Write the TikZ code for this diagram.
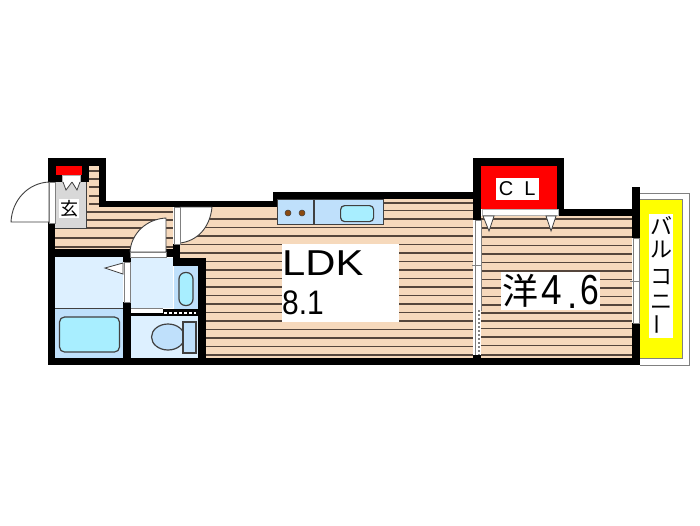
\documentclass[tikz,border=0pt]{standalone}
\usepackage{fontspec}
\usetikzlibrary{shapes.geometric}
\setmainfont{Liberation Sans}
\newfontfamily\cjk{Noto Sans CJK JP}
\definecolor{floorc}{HTML}{F6D9BC}
\definecolor{linec}{HTML}{55463C}
\definecolor{washc}{HTML}{DDF0FF}
\definecolor{bathc}{HTML}{BFE0FB}
\definecolor{tubc}{HTML}{A8EEFF}
\definecolor{outc}{HTML}{404040}
\definecolor{redc}{HTML}{FF0000}
\definecolor{yelc}{HTML}{FFFF00}
\definecolor{grayc}{HTML}{D8D8D8}
\definecolor{burn}{HTML}{8B4A10}
\tikzset{
 wall/.style={fill=black,draw=none},
 fixture/.style={draw=outc,line width=1.2pt},
 strip/.style={fill=white,draw=gray,line width=.9pt},
 doorleaf/.style={fill=white,draw=outc,line width=.9pt},
 label/.style={fill=white,inner sep=0pt,text=black,align=left},
 tri/.style={fill=white,draw=outc,line width=.8pt},
 balch/.style={font=\cjk\fontsize{22}{22}\selectfont},
 floorline/.style={linec,line width=1.3pt},
}
\begin{document}
\begin{tikzpicture}[x=1pt,y=-1pt,every node/.style={inner sep=0pt}]
\useasboundingbox (0,0) rectangle (700,525);
\fill[white] (0,0) rectangle (700,525);
% floors
\fill[floorc] (55,166) -- (99,166) -- (99,207) -- (173,207) -- (173,250) -- (55,250) -- cycle;
\fill[floorc] (180,207) rectangle (277,358);
\fill[floorc] (277,199) rectangle (473,358);
\fill[floorc] (481,216) rectangle (632,358);
% floor lines
\begin{scope}
\clip (89,166) rectangle (99,207);
\foreach \y in {171,179,187,196,204} \draw[floorline] (80,\y) -- (110,\y);
\end{scope}
\foreach \y in {212,220,228} \draw[floorline] (86,\y) -- (173,\y);
\foreach \y in {238,247} \draw[floorline] (55,\y) -- (173,\y);
\foreach \y in {219,227.5,236,244.5,253,261.5,270,278.5,287,295.5,304,312.5,321,329.5,338,346.5,355}
  \draw[floorline] (180,\y) -- (473,\y);
\draw[floorline] (383,210.5) -- (473,210.5);
\draw[floorline] (383,203) -- (473,203);
\foreach \y in {219,228,237,245.5,254,262.5,271,279.5,288,296.5,305,313,321,328.5,337,345.5,355}
  \draw[floorline] (481,\y) -- (632,\y);
% rooms
\fill[washc] (55,257) rectangle (123,308);
\fill[bathc] (55,308) rectangle (123,358);
\fill[washc] (131,258) rectangle (173,308);
\fill[bathc] (174,266) rectangle (198,309);
\fill[washc] (131,316) rectangle (198,358);
\draw[outc,line width=.8pt] (55,308) -- (123,308);
\node[fixture,fill=tubc,rounded corners=5pt,minimum width=60pt,minimum height=35pt] (tub) at (89.5,334.5) {};
\node[fixture,fill=tubc,rounded corners=6.5pt,minimum width=14pt,minimum height=33pt] (basin) at (186,289) {};
\node[fixture,fill=bathc,ellipse,minimum width=33pt,minimum height=26pt] (bowl) at (168,337) {};
\node[fixture,fill=bathc,minimum width=13pt,minimum height=31pt] (tank) at (189.5,337.5) {};
% walls
\fill[wall] (48,158) rectangle (106,166);
\fill[wall] (48,158) rectangle (55,182);
\fill[wall] (55,166) rectangle (89,182);
\fill[wall] (99,158) rectangle (106,207);
\fill[wall] (99,201) rectangle (277,207);
\fill[wall] (273,192) rectangle (473,199);
\fill[wall] (273,192) rectangle (277,207);
\fill[wall] (48,222) rectangle (55,365);
\fill[wall] (48,358) rectangle (206,365);
\fill[wall] (55,249) rectangle (130,257);
\fill[wall] (166,249) rectangle (180,257);
\fill[wall] (173,244) rectangle (180,266);
\fill[wall] (173,258) rectangle (206,266);
\fill[wall] (198,258) rectangle (206,365);
\fill[wall] (123,257) rectangle (131,262);
\fill[wall] (123,302) rectangle (131,358);
\fill[wall] (163,309) rectangle (198,316);
\fill[wall] (131,313) rectangle (163,316);
\fill[wall] (206,358) rectangle (640,365);
\fill[wall] (473,158) rectangle (564,166);
\fill[wall] (473,158) rectangle (481,220);
\fill[wall] (557,158) rectangle (564,216);
\fill[wall] (557,209) rectangle (640,216);
\fill[wall] (632,187) rectangle (640,238);
\fill[wall] (632,323) rectangle (640,365);
\fill[wall] (473,355) rectangle (481,365);
% genkan
\fill[grayc] (55,182) rectangle (86,228);
\draw[outc,line width=.5pt] (86,182) -- (86,228) -- (55,228);
\node[fill=redc,anchor=north west,minimum width=26pt,minimum height=9pt] (shoered) at (56,166) {};
\node[fill=white,draw=gray!60,line width=.4pt,anchor=north west,minimum width=18pt,minimum height=7pt] (shoe) at (62,175) {};
\draw[tri] (63,182) -- (66,190) -- (72,182);
\draw[tri] (72,182) -- (77,190) -- (80,182);
\node[fill=white,minimum width=20pt,minimum height=19pt] (genkan) at (69,208.5) {\cjk\fontsize{18}{18}\selectfont 玄};
% doors
\draw[doorleaf] (11,222) -- (49,222) -- (49,182) .. controls (28,183) and (12,200) .. (11,222) -- cycle;
\node[strip,anchor=north west,minimum width=6pt,minimum height=41pt] (door1) at (49,182) {};
\draw[doorleaf] (130,252) -- (166,252) -- (166,218) .. controls (146,219) and (131,234) .. (130,252) -- cycle;
\node[strip,anchor=north west,minimum width=36pt,minimum height=5pt] (door2) at (130,252) {};
\draw[doorleaf] (180,243) -- (180,207) -- (212,207) .. controls (210,228) and (197,241) .. (180,243) -- cycle;
\node[strip,anchor=north west,minimum width=6pt,minimum height=37pt] (door3) at (174,207) {};
\node[strip,anchor=north west,minimum width=6pt,minimum height=40pt] (washdoor) at (124,262) {};
\draw[tri] (105,268) -- (123,263) -- (123,274) -- cycle;
\fill[white] (131,308) rectangle (163,313);
\draw[gray,line width=.6pt] (131,308.5) -- (163,308.5);
\draw[white,line width=2pt,dash pattern=on 3pt off 2pt] (164,313) -- (196,313);
% kitchen
\node[fixture,fill=bathc,anchor=north west,minimum width=106pt,minimum height=25pt] (kitchen) at (277,199) {};
\draw[outc,line width=1.2pt] (314,199) -- (314,224);
\filldraw[fill=burn,draw=outc,line width=.5pt] (288,213) circle (3pt) (302,213) circle (3pt);
\node[fixture,fill=tubc,rounded corners=4pt,anchor=north west,minimum width=33pt,minimum height=16pt] (ksink) at (340,205) {};
% closet
\node[fill=redc,anchor=north west,minimum width=76pt,minimum height=43pt] (closet) at (481,166) {};
\node[fill=white,draw=gray!60,line width=.4pt,anchor=north west,minimum width=76pt,minimum height=6pt] (clstrip) at (482,209) {};
\node[fill=white,minimum width=43pt,minimum height=22pt] (clbg) at (517.5,189) {};
\node[font=\fontsize{20}{20}\selectfont] (cl1) at (506,189) {C};
\node[font=\fontsize{20}{20}\selectfont] (cl2) at (530,189) {L};
\draw[tri] (483,216) -- (489,231) -- (494,216) -- cycle;
\draw[tri] (546,216) -- (551,231) -- (556,216) -- cycle;
% sashes
\node[strip,anchor=north west,minimum width=6pt,minimum height=90pt] (sashl) at (474.5,220) {};
\fill[white] (474.5,310) rectangle (480.5,355);
\draw[gray,line width=.8pt] (475,310) -- (475,355);
\draw[gray,line width=1.4pt,dash pattern=on 2pt off 2pt] (479,310) -- (479,355);
\node[strip,anchor=north west,minimum width=6pt,minimum height=85pt] (sashr) at (633,238) {};
\draw[gray,line width=1pt] (630,281) -- (640,281) (472,265) -- (482,265);
% balcony
\draw[gray,line width=1pt] (640,193) -- (689,193) -- (689,365.5) -- (640,365.5);
\fill[yelc] (640,199) rectangle (682,358);
\draw[gray,line width=.7pt] (640,199) -- (682,199) -- (682,358) -- (640,358);
% labels
\node[label,anchor=north west,minimum width=117pt,minimum height=78pt] (ldkbg) at (282,244) {};
\node[anchor=west,xscale=1.16,font=\fontsize{36}{36}\selectfont] (ldk) at (282,263) {LDK};
\node[anchor=west,xscale=.88,font=\fontsize{34}{34}\selectfont] (ldkn) at (282,303) {8.1};
\node[label,anchor=north west,minimum width=99pt,minimum height=38pt] (yobg) at (501,272) {};
\node[font=\cjk\fontsize{36}{36}\selectfont] (yo) at (520,291) {洋};
\node[font=\fontsize{42}{42}\selectfont,xscale=.88] (yo4) at (552,290) {4};
\node[font=\fontsize{42}{42}\selectfont,xscale=.88,anchor=south] (yod) at (573,309) {.};
\node[font=\fontsize{42}{42}\selectfont,xscale=.8] (yo6) at (590,290) {6};
\node[label,anchor=north west,minimum width=24pt,minimum height=124pt] (balbg) at (649,214) {};
\node[balch] (b1) at (661,226) {バ};
\node[balch] (b2) at (661,250) {ル};
\node[balch] (b3) at (661,277) {コ};
\node[balch] (b4) at (661,302) {ニ};
\node[balch,rotate=90] (b5) at (661,324) {ー};
\end{tikzpicture}
\end{document}
